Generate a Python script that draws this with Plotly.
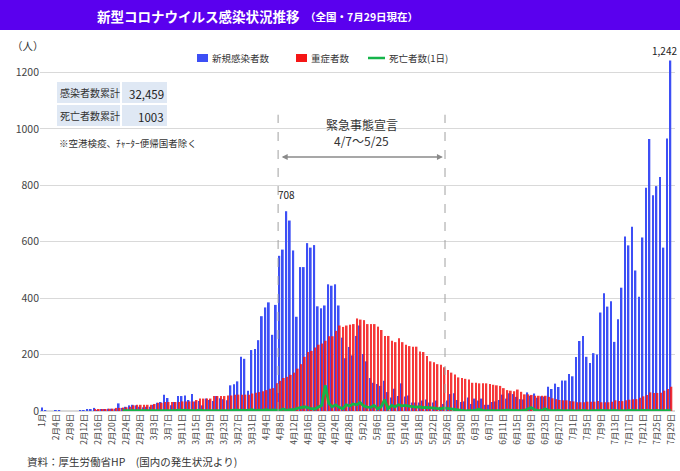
import plotly.graph_objects as go
import pandas as pd

# ---------------- data ----------------
dates = pd.date_range("2020-02-01", "2020-07-29")
categories = ["1月"] + [f"{d.month}月{d.day}日" for d in dates]

new_cases = [
    12,
    2, 0, 0, 3, 2, 0, 0, 0, 0, 0, 1, 2, 4, 6, 11, 3, 6, 6, 8, 8, 8, 27, 11, 15, 20, 22, 20, 15, 13,
    15, 15, 22, 29, 32, 58, 46, 20, 32, 53, 53, 55, 39, 60, 34, 35, 20, 44, 39, 35, 53, 45, 42, 38,
    91, 95, 105, 192, 185, 72, 216,
    220, 251, 336, 367, 385, 270, 376, 550, 572, 708, 675, 569, 334, 510, 510, 595, 579, 588, 371,
    364, 374, 449, 444, 449, 374, 260, 187, 227, 197, 266,
    303, 202, 176, 117, 100, 96, 89, 107, 67, 48, 79, 53, 98, 51, 55, 30, 30, 30, 37, 41, 30, 30,
    37, 15, 25, 37, 60, 63, 39, 32, 34,
    48, 25, 44, 37, 44, 22, 22, 32, 34, 39, 58, 44, 63, 60, 50, 42, 41, 66, 54, 62, 47, 52, 51, 86,
    78, 97, 85, 108, 108, 131,
    123, 191, 248, 266, 192, 170, 205, 200, 349, 417, 370, 389, 245, 325, 437, 618, 587, 653, 498,
    405, 615, 791, 964, 765, 797, 829, 579, 966, 1242,
]

severe = [
    None,
    None, None, None, None, None, None, None, None, None, None, None, None, None, None,
    4, 4, 4, 6, 8, 8, 11, 11, 12, 13, 15, 20, 22, 22, 22,
    22, 22, 25, 29, 29, 32, 32, 32, 32, 32, 34, 34, 34, 34, 39, 44, 44, 44, 44, 53, 53, 53, 53, 55,
    55, 58, 58, 58, 58, 58, 62,
    65, 67, 70, 74, 79, 81, 98, 107, 117, 121, 128, 136, 150, 166, 192, 209, 213, 225, 235, 239,
    249, 265, 265, 284, 303, 298, 303, 306, 308, 328,
    324, 322, 308, 308, 308, 299, 287, 266, 266, 249, 244, 258, 244, 235, 230, 228, 228, 211, 209,
    195, 176, 173, 166, 164, 155, 145, 136, 129, 119, 117, 114,
    112, 100, 100, 98, 98, 98, 96, 93, 91, 89, 81, 74, 72, 70, 76, 68, 59, 59, 57, 54, 54, 54, 54,
    50, 45, 42, 39, 38, 38, 35,
    34, 31, 31, 31, 33, 33, 33, 35, 31, 31, 31, 33, 38, 35, 35, 38, 40, 42, 42, 47, 52, 57, 66, 64,
    64, 65, 72, 78, 86,
]

deaths = [
    None,
    None, None, None, None, None, None, None, None, None, None, None, None, None, None, None, None,
    None, None, None, None, None, None, 1, 0, 1, 1, 1, 1, 0,
    1, 1, 0, 0, 2, 0, 0, 0, 1, 3, 2, 1, 2, 1, 1, 3, 1, 1, 2, 1, 2, 0, 1, 0, 2, 3, 2, 1, 2, 3, 5,
    1, 3, 2, 5, 2, 4, 3, 2, 7, 2, 5, 5, 9, 12, 15, 12, 8, 7, 13, 20, 91, 27, 15, 22, 13, 8, 22, 18,
    25, 22,
    30, 18, 14, 13, 20, 8, 15, 40, 8, 20, 15, 22, 18, 20, 17, 15, 14, 15, 12, 13, 11, 10, 9, 8, 11,
    9, 8, 6, 4, 2, 0,
    1, 1, 2, 6, 2, 1, 1, 0, 2, 1, 2, 3, 2, 1, 2, 1, 2, 6, 12, 4, 1, 2, 8, 2, 1, 1, 2, 0, 1, 2,
    1, 0, 1, 2, 0, 1, 0, 1, 2, 1, 0, 1, 2, 0, 1, 0, 2, 1, 0, 1, 2, 1, 0, 1, 2, 1, 0, 2, 1,
]

series_names = ["新規感染者数", "重症者数", "死亡者数(1日)"]
total_cases_label, total_cases = "感染者数累計", "32,459"
total_deaths_label, total_deaths = "死亡者数累計", "1003"
period_title, period_text = "緊急事態宣言", "4/7〜5/25"
period_start, period_end = "4月7日", "5月25日"

y_ticks = [0, 200, 400, 600, 800, 1000, 1200]
tick_every = 4

# ---------------- figure ----------------
FONT = "Noto Sans CJK JP"
BLUE = "#3d4ff5"
RED = "#f51616"
GREEN = "#16b44a"

W, H = 680, 471
L, R, T, B = 40, 5, 47, 60
pw, ph = W - L - R, H - T - B


def px2paper_x(px):
    return (px - L) / pw


def py2paper_y(py):
    return (H - B - py) / ph


x = list(range(len(categories)))

fig = go.Figure()
fig.add_trace(go.Bar(x=x, y=new_cases, name=series_names[0], marker_color=BLUE,
                     marker_line_width=0, width=0.5, offset=-0.4, showlegend=False))
fig.add_trace(go.Bar(x=x, y=severe, name=series_names[1], marker_color=RED,
                     marker_line_width=0, width=0.5, offset=-0.1, opacity=0.85,
                     showlegend=False))
fig.add_trace(go.Scatter(x=x, y=deaths, name=series_names[2], mode="lines",
                         line=dict(color=GREEN, width=2.8), connectgaps=False,
                         showlegend=False))

tickvals = x[::tick_every]
ticktext = categories[::tick_every]

fig.update_layout(
    width=W, height=H,
    margin=dict(l=L, r=R, t=T, b=B, pad=0),
    paper_bgcolor="white", plot_bgcolor="white",
    barmode="overlay",
    font=dict(family=FONT, size=11, color="#333"),
    xaxis=dict(range=[-0.69, 181.17], tickvals=tickvals, ticktext=ticktext,
               tickangle=-90, tickfont=dict(size=8.5, color="#444"),
               showgrid=False, zeroline=False, showline=False, ticks=""),
    yaxis=dict(range=[0, 1290], tickvals=y_ticks, showgrid=True, gridcolor="#d9d9d9",
               gridwidth=1, zeroline=True, zerolinecolor="#d9d9d9", showline=False,
               tickfont=dict(size=10.5, color="#444"), ticks=""),
)

shapes = []
annotations = []

# title band
shapes.append(dict(type="rect", xref="paper", yref="paper",
                   x0=px2paper_x(0), x1=px2paper_x(W), y0=py2paper_y(30), y1=py2paper_y(0),
                   fillcolor="#5a00ee", line_width=0, layer="below"))
annotations.append(dict(xref="paper", yref="paper", x=px2paper_x(95), y=py2paper_y(16),
                        xanchor="left", yanchor="middle", showarrow=False,
                        text="<b>新型コロナウイルス感染状況推移</b>",
                        font=dict(size=13.5, color="white", family=FONT)))
annotations.append(dict(xref="paper", yref="paper", x=px2paper_x(303), y=py2paper_y(16),
                        xanchor="left", yanchor="middle", showarrow=False,
                        text="<b>（全国・7月29日現在）</b>",
                        font=dict(size=10.5, color="white", family=FONT)))

# unit
annotations.append(dict(xref="paper", yref="paper", x=px2paper_x(10), y=py2paper_y(45),
                        xanchor="left", yanchor="middle", showarrow=False, text="（人）",
                        font=dict(size=10.5, color="#333")))

# manual legend
leg_y = 58
shapes.append(dict(type="rect", xref="paper", yref="paper",
                   x0=px2paper_x(197), x1=px2paper_x(208), y0=py2paper_y(leg_y + 4),
                   y1=py2paper_y(leg_y - 4), fillcolor=BLUE, line_width=0))
annotations.append(dict(xref="paper", yref="paper", x=px2paper_x(210), y=py2paper_y(leg_y),
                        xanchor="left", yanchor="middle", showarrow=False,
                        text=series_names[0], font=dict(size=9.5, color="#333")))
shapes.append(dict(type="rect", xref="paper", yref="paper",
                   x0=px2paper_x(296), x1=px2paper_x(307), y0=py2paper_y(leg_y + 4),
                   y1=py2paper_y(leg_y - 4), fillcolor=RED, line_width=0))
annotations.append(dict(xref="paper", yref="paper", x=px2paper_x(309), y=py2paper_y(leg_y),
                        xanchor="left", yanchor="middle", showarrow=False,
                        text=series_names[1], font=dict(size=9.5, color="#333")))
shapes.append(dict(type="line", xref="paper", yref="paper",
                   x0=px2paper_x(368), x1=px2paper_x(385), y0=py2paper_y(leg_y),
                   y1=py2paper_y(leg_y), line=dict(color=GREEN, width=2.5)))
annotations.append(dict(xref="paper", yref="paper", x=px2paper_x(387), y=py2paper_y(leg_y),
                        xanchor="left", yanchor="middle", showarrow=False,
                        text=series_names[2], font=dict(size=9.5, color="#333")))

# table
cell_fill = "#dfe8f4"
rows = [(total_cases_label, total_cases, 82, 103), (total_deaths_label, total_deaths, 105, 126)]
for lab, val, top, bot in rows:
    shapes.append(dict(type="rect", xref="paper", yref="paper",
                       x0=px2paper_x(57), x1=px2paper_x(120), y0=py2paper_y(bot),
                       y1=py2paper_y(top), fillcolor=cell_fill, line_width=0))
    shapes.append(dict(type="rect", xref="paper", yref="paper",
                       x0=px2paper_x(122), x1=px2paper_x(167), y0=py2paper_y(bot),
                       y1=py2paper_y(top), fillcolor=cell_fill, line_width=0))
    annotations.append(dict(xref="paper", yref="paper", x=px2paper_x(58),
                            y=py2paper_y((top + bot) / 2), xanchor="left", yanchor="middle",
                            showarrow=False, text=lab, font=dict(size=10, color="#333")))
    annotations.append(dict(xref="paper", yref="paper", x=px2paper_x(166),
                            y=py2paper_y((top + bot) / 2 + 1), xanchor="right", yanchor="middle",
                            showarrow=False, text=val, font=dict(size=11.5, color="#222")))
annotations.append(dict(xref="paper", yref="paper", x=px2paper_x(57), y=py2paper_y(143),
                        xanchor="left", yanchor="middle", showarrow=False,
                        text="※空港検疫、ﾁｬｰﾀｰ便帰国者除く", font=dict(size=9.5, color="#333")))

# emergency period
i0 = categories.index(period_start) + 0.5
i1 = categories.index(period_end) + 0.3
for xi in (i0, i1):
    shapes.append(dict(type="line", xref="x", yref="y", x0=xi, x1=xi, y0=0, y1=1050,
                       line=dict(color="#a0a0a0", width=1, dash="dash")))
annotations.append(dict(xref="x", yref="y", x=i1 - 0.6, y=900, ax=i0 + 0.6, ay=900,
                        axref="x", ayref="y", showarrow=True, arrowhead=2, startarrowhead=2,
                        arrowside="end+start", arrowsize=0.8, arrowwidth=1.5,
                        arrowcolor="#8a8a8a", text=""))
annotations.append(dict(xref="x", yref="y", x=(i0 + i1) / 2, y=1016, xanchor="center",
                        yanchor="middle", showarrow=False, text=period_title, borderpad=0,
                        font=dict(size=12, color="#333")))
annotations.append(dict(xref="x", yref="y", x=(i0 + i1) / 2, y=957, xanchor="center",
                        yanchor="middle", showarrow=False, text=period_text, borderpad=0,
                        font=dict(size=12, color="#333")))

# value labels
imax1 = new_cases.index(max(new_cases[:120]))
annotations.append(dict(xref="x", yref="y", x=imax1 - 0.15, y=new_cases[imax1],
                        yshift=17, showarrow=False, text=f"{new_cases[imax1]}",
                        font=dict(size=10, color="#222")))
ilast = len(new_cases) - 1
annotations.append(dict(xref="x", yref="y", x=ilast, y=new_cases[ilast], xshift=-6,
                        yshift=10, showarrow=False, text=f"{new_cases[ilast]:,}",
                        font=dict(size=10, color="#222")))

# source
annotations.append(dict(xref="paper", yref="paper", x=px2paper_x(25), y=py2paper_y(461),
                        xanchor="left", yanchor="middle", showarrow=False,
                        text="資料：厚生労働省HP　(国内の発生状況より)",
                        font=dict(size=10.5, color="#333")))

fig.update_layout(shapes=shapes, annotations=annotations)
fig.write_html("out.html", post_script="document.body.style.margin='0';",
               config={"displayModeBar": False})
